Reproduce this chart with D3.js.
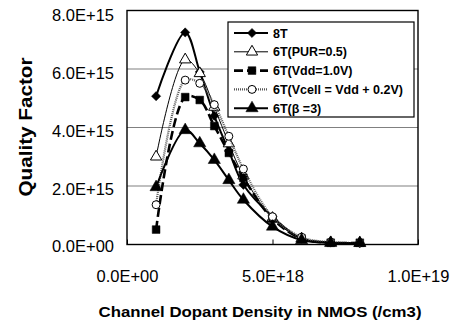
<!DOCTYPE html>
<html><head><meta charset="utf-8">
<script src="https://cdn.jsdelivr.net/npm/d3@7/dist/d3.min.js"></script>
<style>
html,body{margin:0;padding:0;background:#fff;}
svg{display:block;}
</style></head>
<body>
<svg id="chart" width="453" height="320"></svg>
<script>
// ---- data (x in units of 1e18 /cm3, y in units of 1e15) ----
const densities = [1.0, 2.0, 2.5, 3.0, 3.5, 4.0, 5.0, 6.0, 7.0, 8.0];
const q8T     = [5.07, 7.25, 5.90, 4.40, 3.20, 2.04, 0.95, 0.20, 0.07, 0.05];
const q6TPUR  = [3.00, 6.32, 5.85, 4.70, 3.45, 2.35, 0.90, 0.20, 0.07, 0.05];
const q6TVdd  = [0.51, 5.04, 4.94, 4.05, 3.13, 2.28, 0.88, 0.20, 0.06, 0.06];
const q6TVcell= [1.36, 5.62, 5.51, 4.78, 3.70, 2.58, 0.95, 0.25, 0.08, 0.05];
const q6TBeta = [1.96, 3.91, 3.46, 2.89, 2.20, 1.53, 0.61, 0.15, 0.05, 0.05];
const seriesNames = ["8T", "6T(PUR=0.5)", "6T(Vdd=1.0V)", "6T(Vcell = Vdd + 0.2V)", "6T(\u03B2 =3)"];
const xTicks = [0, 5e18, 1e19];
const yTicks = [0, 2e15, 4e15, 6e15, 8e15];
const xTitle = "Channel Dopant Density in NMOS (/cm3)";
const yTitle = "Quality Factor";

const seriesVals = [q8T, q6TPUR, q6TVdd, q6TVcell, q6TBeta];
const styles = [
  {stroke:"#000", width:2, dash:null, marker:"diamond", fill:"#000", size:42, rot:45},
  {stroke:"#000", width:1, dash:null, marker:"triangle", fill:"#fff", size:55, rot:0},
  {stroke:"#000", width:2.6, dash:"9,4", marker:"square", fill:"#000", size:60, rot:0},
  {stroke:"#555", width:2.2, dash:"1,1", marker:"circle", fill:"#fff", size:50, rot:0},
  {stroke:"#000", width:2, dash:null, marker:"triangle", fill:"#000", size:65, rot:0}
];
const data = seriesVals.map((vals,i)=>({name:seriesNames[i], style:styles[i],
  pts: vals.map((v,j)=>({x:densities[j]*1e18, y:v*1e15}))}));

const svg = d3.select("#chart");
svg.append("rect").attr("width",453).attr("height",320).attr("fill","#fff");

const x = d3.scaleLinear().domain([0,1e19]).range([127,418]);
const y = d3.scaleLinear().domain([0,8e15]).range([244.5,10.5]);

function sci(d){
  if (d===0) return "0.0E+00";
  const e = Math.floor(Math.log10(d)+1e-9);
  const m = d/Math.pow(10,e);
  return m.toFixed(1)+"E+"+String(e).padStart(2,"0");
}

// gridlines
svg.append("g").selectAll("line").data(yTicks.filter(t=>t>0 && t<8e15)).join("line")
  .attr("x1",x(0)).attr("x2",x(1e19)).attr("y1",d=>y(d)).attr("y2",d=>y(d))
  .attr("stroke","#808080").attr("stroke-width",1.2);

// y tick labels
svg.append("g").selectAll("text").data(yTicks).join("text")
  .attr("x",114).attr("y",d=>y(d)+2+3*(d/8e15)).attr("dy","0.35em")
  .attr("text-anchor","end").attr("font-family","Liberation Sans, Arial, sans-serif")
  .attr("font-size",16.5).attr("fill","#000").text(sci);

// x axis with inward ticks
const xAxis = d3.axisBottom(x).tickValues(xTicks).tickSize(-5).tickFormat(sci);
const gx = svg.append("g").attr("transform",`translate(0,${y(0)})`).call(xAxis);
gx.select(".domain").remove();
gx.selectAll(".tick line").attr("stroke","#000").attr("stroke-width",1);
gx.selectAll(".tick text").attr("y",37).attr("dy","0").attr("font-family","Liberation Sans, Arial, sans-serif")
  .attr("font-size",16.5).attr("fill","#000");

// plot frame
svg.append("rect").attr("x",x(0)).attr("y",y(8e15)).attr("width",x(1e19)-x(0)).attr("height",y(0)-y(8e15))
  .attr("fill","none").attr("stroke","#000").attr("stroke-width",1.4);

// titles
svg.append("text").attr("x",260).attr("y",317).attr("text-anchor","middle")
  .attr("font-family","Liberation Sans, Arial, sans-serif").attr("font-weight","bold")
  .attr("font-size",15.5).attr("textLength",323).attr("lengthAdjust","spacingAndGlyphs").text(xTitle);
svg.append("text").attr("transform","translate(32,127) rotate(-90)").attr("text-anchor","middle")
  .attr("font-family","Liberation Sans, Arial, sans-serif").attr("font-weight","bold")
  .attr("font-size",18).attr("textLength",139).attr("lengthAdjust","spacingAndGlyphs").text(yTitle);

// lines
const line = d3.line().x(d=>x(d.x)).y(d=>y(d.y)).curve(d3.curveCatmullRom.alpha(0.5));
const symType = {diamond:d3.symbolSquare, triangle:d3.symbolTriangle, square:d3.symbolSquare, circle:d3.symbolCircle};

data.forEach(s=>{
  const g = svg.append("g");
  g.append("path").attr("d",line(s.pts)).attr("fill","none")
    .attr("stroke",s.style.stroke).attr("stroke-width",s.style.width)
    .attr("stroke-dasharray",s.style.dash);
  g.selectAll("path.m").data(s.pts).join("path").attr("class","m")
    .attr("transform",d=>`translate(${x(d.x)},${y(d.y)}) rotate(${s.style.rot})`)
    .attr("d",d3.symbol().type(symType[s.style.marker]).size(s.style.size))
    .attr("fill",s.style.fill).attr("stroke","#000").attr("stroke-width",s.style.fill==="#fff"?1:0.5);
});

// legend
const lg = svg.append("g");
lg.append("rect").attr("x",228).attr("y",22).attr("width",186).attr("height",95)
  .attr("fill","#fff").attr("stroke","#000").attr("stroke-width",1.2);
data.forEach((s,i)=>{
  const cy = 33 + i*18.8;
  lg.append("line").attr("x1",234).attr("x2",268).attr("y1",cy).attr("y2",cy)
    .attr("stroke",s.style.stroke).attr("stroke-width",s.style.width)
    .attr("stroke-dasharray",s.style.dash);
  lg.append("path").attr("transform",`translate(252,${cy}) rotate(${s.style.rot})`)
    .attr("d",d3.symbol().type(symType[s.style.marker]).size(s.style.size))
    .attr("fill",s.style.fill).attr("stroke","#000").attr("stroke-width",s.style.fill==="#fff"?1:0.5);
  lg.append("text").attr("x",273).attr("y",cy).attr("dy","0.36em")
    .attr("font-family","Liberation Sans, Arial, sans-serif").attr("font-weight","bold")
    .attr("font-size",12.5).attr("fill","#000").text(s.name);
});
</script>
</body></html>
